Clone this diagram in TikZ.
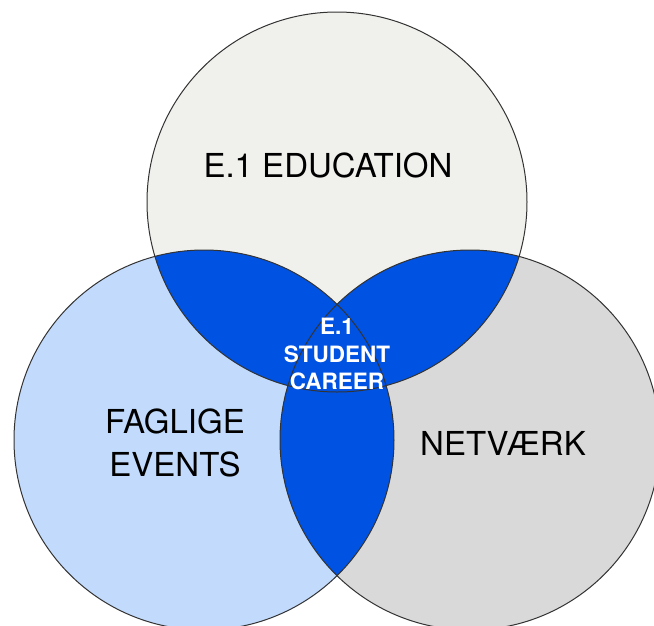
\documentclass[tikz,border=0pt]{standalone}
\usepackage{fontspec}
\setmainfont{TeX Gyre Heros}
\definecolor{topfill}{HTML}{F0F0EC}
\definecolor{leftfill}{HTML}{C2DBFD}
\definecolor{rightfill}{HTML}{D9D9D9}
\definecolor{midblue}{HTML}{0052E2}
\definecolor{edge}{HTML}{333333}
\begin{document}
\begin{tikzpicture}[x=1pt,y=-1pt,
  outline/.style={draw=edge,line width=1pt},
  biglabel/.style={font=\fontsize{33}{43}\selectfont,align=center,text=black,inner sep=0pt},
  midlabel/.style={font=\bfseries\fontsize{22.5}{27.5}\selectfont,align=center,text=white,inner sep=0pt}]
\useasboundingbox (0,0) rectangle (654,625);
\clip (0,0) rectangle (654,625);
\def\R{190}
\coordinate (T) at (337,202);
\coordinate (L) at (204,440);
\coordinate (Rc) at (470,440);
\fill[topfill] (T) circle (\R);
\fill[leftfill] (L) circle (\R);
\fill[rightfill] (Rc) circle (\R);
\begin{scope}
  \clip (T) circle (\R);
  \fill[midblue] (L) circle (\R);
  \fill[midblue] (Rc) circle (\R);
\end{scope}
\begin{scope}
  \clip (L) circle (\R);
  \fill[midblue] (Rc) circle (\R);
\end{scope}
\draw[outline] (T) circle (\R);
\draw[outline] (L) circle (\R);
\draw[outline] (Rc) circle (\R);
\node[biglabel] (edu) at (328,165) {E.1 EDUCATION};
\node[biglabel] (fag) at (175,443) {FAGLIGE\\EVENTS};
\node[biglabel] (net) at (503,443) {NETVÆRK};
\node[midlabel] (stu) at (337,354) {E.1\\STUDENT\\CAREER};
\end{tikzpicture}
\end{document}
